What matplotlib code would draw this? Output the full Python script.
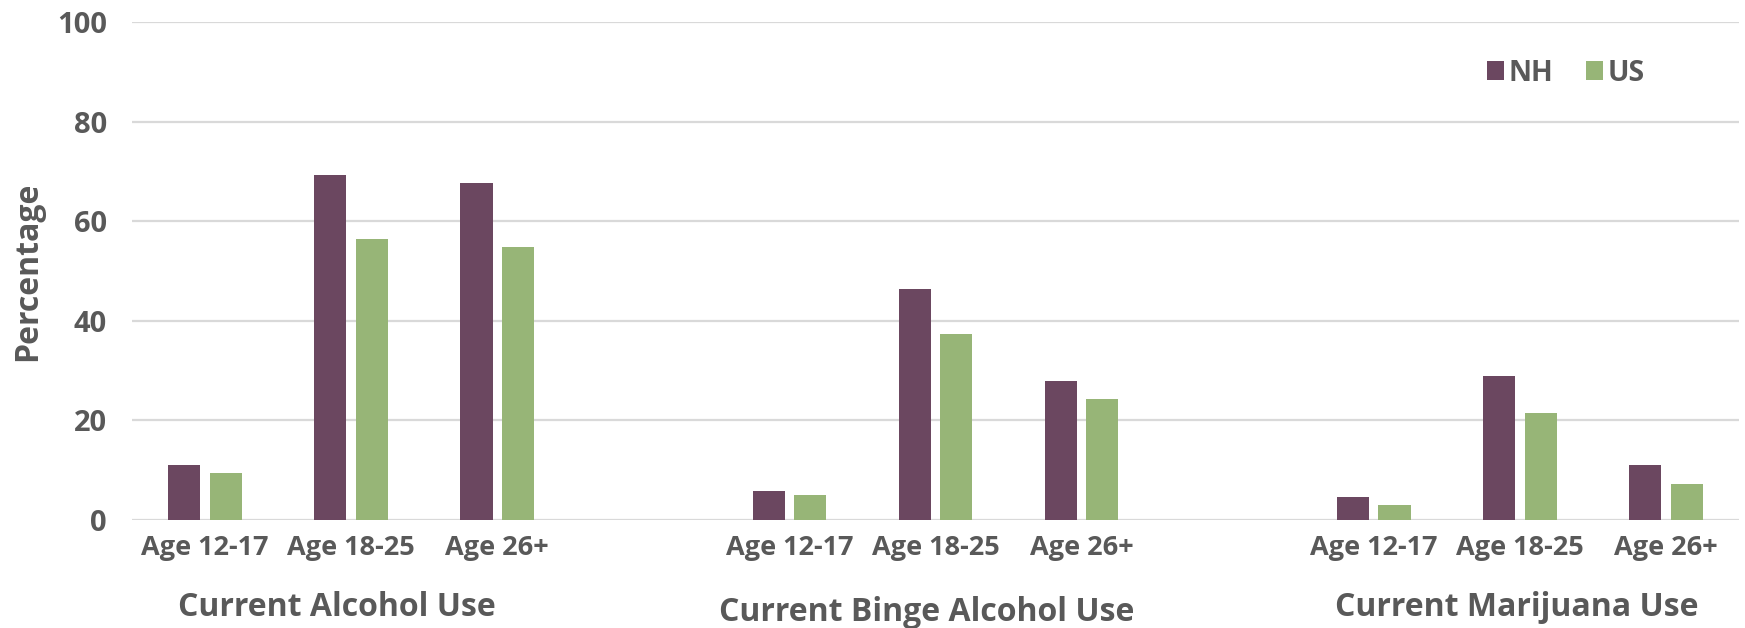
import matplotlib.pyplot as plt
from matplotlib.transforms import blended_transform_factory

plt.rcParams["font.family"] = ["Open Sans", "DejaVu Sans"]
plt.rcParams["font.weight"] = "bold"
plt.rcParams["axes.labelweight"] = "bold"

# data (percent)
GROUPS = ["Current Alcohol Use", "Current Binge Alcohol Use", "Current Marijuana Use"]
AGES = ["Age 12-17", "Age 18-25", "Age 26+"]
NH_VALUES = [11.1, 69.2, 67.6, 5.8, 46.4, 27.9, 4.6, 29.0, 11.0]
US_VALUES = [9.4, 56.4, 54.8, 5.1, 37.4, 24.2, 3.0, 21.5, 7.2]

NH_COLOR = "#6B4760"
US_COLOR = "#97B577"
TEXT_COLOR = "#595959"


def main():
    fig = plt.figure(figsize=(17.45, 6.28), dpi=100)
    ax = fig.add_axes([0.0756, 0.172, 0.921, 0.793])

    # one empty slot between each group, like the Excel original
    xs = []
    for g in range(len(GROUPS)):
        for a in range(len(AGES)):
            xs.append(g * (len(AGES) + 1) + a)

    width = 0.22
    off = 0.142
    ax.bar([x - off for x in xs], NH_VALUES, width, color=NH_COLOR, label="NH", zorder=3)
    ax.bar([x + off for x in xs], US_VALUES, width, color=US_COLOR, label="US", zorder=3)

    ax.set_xlim(-0.5, xs[-1] + 0.5)
    ax.set_ylim(0, 100)
    ax.set_yticks(range(0, 101, 20))
    ax.yaxis.grid(True, color="#D9D9D9", linewidth=1.6, zorder=0)
    ax.set_axisbelow(True)
    for s in ax.spines.values():
        s.set_visible(False)

    ax.set_xticks(xs)
    ax.set_xticklabels(AGES * len(GROUPS))
    ax.tick_params(axis="x", length=0, pad=11, labelsize=19.5, labelcolor=TEXT_COLOR)
    ax.tick_params(axis="y", length=0, pad=18, labelsize=21, labelcolor=TEXT_COLOR)

    ax.set_ylabel("Percentage", fontsize=23, color=TEXT_COLOR, labelpad=9)

    # group titles under the age labels
    trans = blended_transform_factory(ax.transData, fig.transFigure)
    group_y = [0.033, 0.025, 0.033]
    group_dx = [-0.1, -0.06, -0.02]
    for g, name in enumerate(GROUPS):
        cx = g * (len(AGES) + 1) + 1 + group_dx[g]
        ax.text(cx, group_y[g], name, transform=trans, ha="center", va="center",
                fontsize=23, color=TEXT_COLOR, fontweight="bold")

    leg = ax.legend(loc="upper right", bbox_to_anchor=(0.957, 0.978), ncol=2, frameon=False,
                    fontsize=20.5, handlelength=0.6, handleheight=0.6, handletextpad=0.15,
                    columnspacing=1.15)
    for t in leg.get_texts():
        t.set_color(TEXT_COLOR)

    fig.savefig("out.png", dpi=100)


if __name__ == "__main__":
    main()
